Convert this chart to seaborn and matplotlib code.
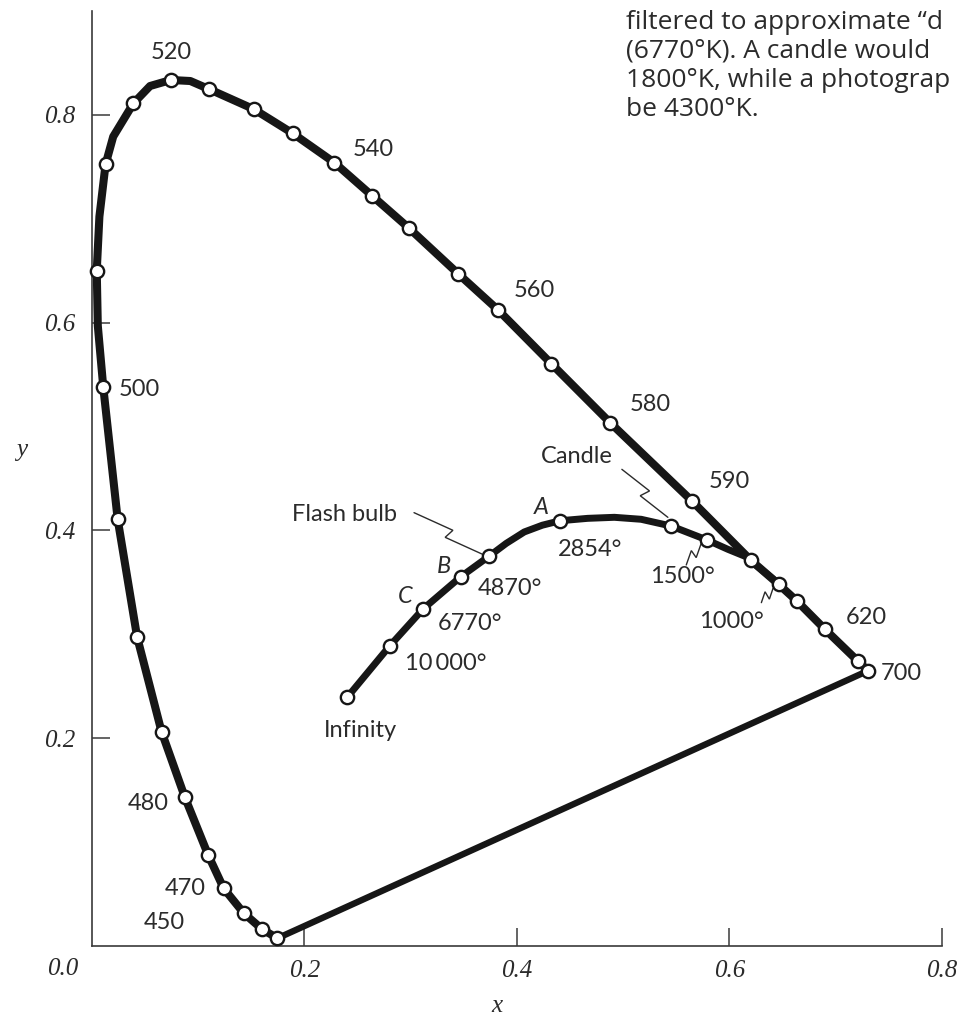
import numpy as np
import matplotlib
matplotlib.use("Agg")
import matplotlib.pyplot as plt
import seaborn as sns

# ---------------------------------------------------------------
# CIE 1931 spectral locus (x, y chromaticity), blue end to red end
# ---------------------------------------------------------------
locus_x = [0.1745, 0.160, 0.143, 0.124, 0.1094, 0.0875, 0.0655, 0.0425, 0.0242,
           0.0106, 0.0055, 0.0045, 0.0070, 0.0128, 0.0200, 0.0390, 0.0547, 0.0743,
           0.0926, 0.1100, 0.1526, 0.1889, 0.2283, 0.2637, 0.2986, 0.3450, 0.3827,
           0.4325, 0.4877, 0.5646, 0.6201, 0.6465, 0.6634, 0.6901, 0.7210, 0.7308]
locus_y = [0.0074, 0.0164, 0.0315, 0.0555, 0.0876, 0.1431, 0.2063, 0.2974, 0.4107,
           0.5383, 0.5970, 0.6500, 0.7020, 0.7523, 0.7790, 0.8110, 0.8277, 0.8335,
           0.8325, 0.8248, 0.8053, 0.7822, 0.7539, 0.7221, 0.6908, 0.6468, 0.6118,
           0.5604, 0.5038, 0.4286, 0.3715, 0.3481, 0.3323, 0.3048, 0.2743, 0.2650]
locus_marked = [True, True, True, True, True, True, True, True, True,
                True, False, True, False, True, False, True, False, True,
                False, True, True, True, True, True, True, True, True,
                True, True, True, True, True, True, True, True, True]

# wavelength labels (nm) and the locus point each one belongs to
wl_labels = ["450", "470", "480", "500", "520", "540", "560", "580", "590", "620", "700"]
wl_index = [1, 3, 5, 9, 17, 22, 26, 28, 29, 33, 35]

# ---------------------------------------------------------------
# Planckian (black-body) locus, from infinite temperature downwards
# ---------------------------------------------------------------
planck_x = [0.2403, 0.2805, 0.3120, 0.3472, 0.3742, 0.3900, 0.4070, 0.4240,
            0.4408, 0.4667, 0.4918, 0.5170, 0.5453, 0.5790, 0.5987, 0.6150, 0.6450]
planck_y = [0.2394, 0.2890, 0.3246, 0.3554, 0.3754, 0.3875, 0.3985, 0.4050,
            0.4093, 0.4116, 0.4126, 0.4107, 0.4042, 0.3908, 0.3818, 0.3750, 0.3500]
planck_marked = [True, True, True, True, True, False, False, False,
                 True, False, False, False, True, True, False, False, False]

planck_labels = ["Infinity", "10\u2009000°", "6770°", "4870°", "2854°", "1500°", "1000°",
                 "A", "B", "C"]
planck_label_index = [0, 1, 2, 3, 8, 13, 16, 8, 3, 2]

source_labels = ["Flash bulb", "Candle"]
source_index = [4, 12]

x_ticks = [0.2, 0.4, 0.6, 0.8]
y_ticks = [0.2, 0.4, 0.6, 0.8]

note_lines = ["filtered to approximate \u201cd",
              "(6770°K). A candle would",
              "1800°K, while a photograp",
              "be 4300°K."]

# ---------------------------------------------------------------
sns.set_style("white")
plt.rcParams["font.family"] = ["Lato", "DejaVu Sans"]

INK = "#161616"
TXT = "#2b2b2b"
SERIF = ["Liberation Serif", "DejaVu Serif"]
LABEL_SIZE = 17

fig = plt.figure(figsize=(9.62, 10.17), dpi=100)
ax = fig.add_axes([0.0956, 0.0698, 0.8833, 0.9195])
ax.set_xlim(0, 0.8)
ax.set_ylim(0, 0.9)

# purple boundary: straight line joining the two ends of the spectrum
sns.lineplot(x=[locus_x[-1], locus_x[0]], y=[locus_y[-1], locus_y[0]], sort=False,
             estimator=None, color=INK, linewidth=4.6, ax=ax, zorder=2)
# spectral locus
sns.lineplot(x=locus_x, y=locus_y, sort=False, estimator=None, color=INK,
             linewidth=5.8, ax=ax, zorder=2)
# black-body locus
sns.lineplot(x=planck_x, y=planck_y, sort=False, estimator=None, color=INK,
             linewidth=5.0, ax=ax, zorder=2)
for ln in ax.lines:
    ln.set_solid_capstyle("round")
    ln.set_solid_joinstyle("round")
    ln.set_clip_on(False)

mx = [x for x, m in zip(locus_x, locus_marked) if m] + \
     [x for x, m in zip(planck_x, planck_marked) if m]
my = [y for y, m in zip(locus_y, locus_marked) if m] + \
     [y for y, m in zip(planck_y, planck_marked) if m]
sns.scatterplot(x=mx, y=my, s=92, color="white", edgecolor=INK, linewidth=1.7,
                ax=ax, zorder=4, clip_on=False)

# ---- wavelength numbers: (dx, dy) in pixels from their point, and alignment
wl_offsets = [(-76.7, 6.5), (-18, 0), (-16, -5.7), (15.3, -2.6), (0.5, 27.2),
              (38.5, 13.5), (36.3, 19.8), (40.5, 18.5), (37.5, 19.0), (41.7, 12.3),
              (12.3, -2.8)]
wl_align = ["right", "right", "right", "left", "center", "center", "center",
            "center", "center", "center", "left"]
for lab, i, off, ha in zip(wl_labels, wl_index, wl_offsets, wl_align):
    ax.annotate(lab, xy=(locus_x[i], locus_y[i]), xytext=off,
                textcoords="offset pixels", ha=ha, va="center",
                fontsize=LABEL_SIZE, color=TXT)

# ---- temperature labels and illuminant letters
pl_offsets = [(13, -33.7), (55.7, -17.6), (46.3, -15), (48.7, -12.1), (29.7, -28.3),
              (-24.9, -37), (-45.2, -38.9), (-18.6, 13), (-16.7, 10), (-17.7, 12.7)]
for lab, i, off in zip(planck_labels, planck_label_index, pl_offsets):
    italic = lab in ("A", "B", "C")
    ax.annotate(lab, xy=(planck_x[i], planck_y[i]), xytext=off,
                textcoords="offset pixels", ha="center", va="center",
                fontsize=LABEL_SIZE, color=TXT, style="italic" if italic else "normal")

src_offsets = [(-145.4, 41), (-94.5, 70)]
for lab, i, off in zip(source_labels, source_index, src_offsets):
    ax.annotate(lab, xy=(planck_x[i], planck_y[i]), xytext=off,
                textcoords="offset pixels", ha="center", va="center",
                fontsize=LABEL_SIZE, color=TXT)


# ---- squiggly leader lines (start / end in pixels from their point)
def squiggle(i, start, end, h=5.0):
    base = ax.transData.transform((planck_x[i], planck_y[i]))
    s = base + np.array(start, float)
    e = base + np.array(end, float)
    d = e - s
    u = d / np.hypot(*d)
    n = np.array([-u[1], u[0]])
    m = s + 0.5 * d
    pts = np.array([s, m + h * n + 1.5 * u, m - h * n - 1.5 * u, e])
    data = ax.transData.inverted().transform(pts)
    ax.plot(data[:, 0], data[:, 1], color=TXT, lw=1.0, zorder=3,
            solid_joinstyle="miter")


squiggle(4, (-75.4, 43.3), (-5.4, 1.0))
squiggle(12, (-49.3, 56.7), (-3.3, 8.7))
squiggle(13, (-20.7, -25.0), (-5.7, -3.3), h=4)
squiggle(16, (-15.7, -20.3), (-4.0, -5.9), h=4)

# ---- axes styling
sns.despine(ax=ax)
for side in ("left", "bottom"):
    ax.spines[side].set_color("#3a3a3a")
    ax.spines[side].set_linewidth(1.2)
ax.set_xticks(x_ticks)
ax.set_xticklabels([f"{v:.1f}" for v in x_ticks])
ax.set_yticks(y_ticks)
ax.set_yticklabels([f"{v:.1f}" for v in y_ticks])
ax.tick_params(axis="x", bottom=True, direction="in", length=13, width=1.1,
               color="#3a3a3a", pad=10, labelsize=18)
ax.tick_params(axis="y", left=True, direction="in", length=13, width=1.1,
               color="#3a3a3a", pad=12, labelsize=18)
for t in ax.get_xticklabels() + ax.get_yticklabels():
    t.set_family(SERIF)
    t.set_style("italic")
    t.set_color(TXT)
ax.annotate("0.0", xy=(0, 0), xytext=(-29, -23), textcoords="offset pixels",
            ha="center", va="center", fontsize=18, family=SERIF, style="italic",
            color=TXT)

ax.set_xlabel("x", family=SERIF, style="italic", fontsize=18, color=TXT,
              va="center")
ax.xaxis.set_label_coords(0.4766, -0.0642)
ax.set_ylabel("y", family=SERIF, style="italic", fontsize=18, color=TXT,
              rotation=0, va="center", ha="center")
ax.yaxis.set_label_coords(-0.0827, 0.5304)

# ---- caption fragment at the upper right
for k, line in enumerate(note_lines):
    fig.text(626 / 962, 1 - (29 + 29 * k) / 1017, line, ha="left",
             va="baseline", fontsize=19, color=TXT,
             family=["Open Sans", "DejaVu Sans"])

fig.savefig("out.png", dpi=100)
